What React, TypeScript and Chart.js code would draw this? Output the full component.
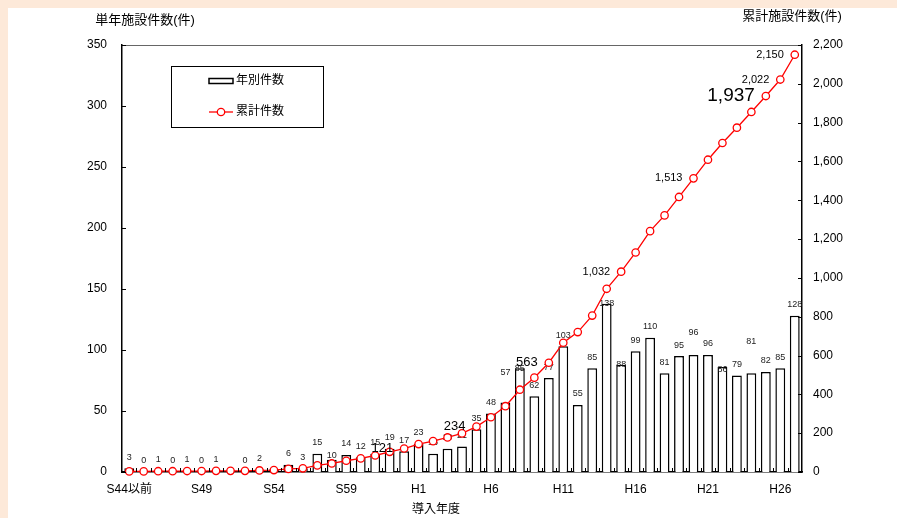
import { useEffect, useRef } from "react";
import { Chart, registerables } from "chart.js";

Chart.register(...registerables);

const categories = [
  "S44以前", "S45", "S46", "S47", "S48", "S49", "S50", "S51", "S52", "S53",
  "S54", "S55", "S56", "S57", "S58", "S59", "S60", "S61", "S62", "S63",
  "H1", "H2", "H3", "H4", "H5", "H6", "H7", "H8", "H9", "H10",
  "H11", "H12", "H13", "H14", "H15", "H16", "H17", "H18", "H19", "H20",
  "H21", "H22", "H23", "H24", "H25", "H26", "H27",
];

const annualCounts = [
  3, 0, 1, 0, 1, 0, 1, 0, 0, 2,
  2, 6, 3, 15, 10, 14, 12, 15, 19, 17,
  23, 15, 19, 21, 35, 48, 57, 85, 62, 77,
  103, 55, 85, 138, 88, 99, 110, 81, 95, 96,
  96, 86, 79, 81, 82, 85, 128,
];

const cumulativeCounts = [
  3, 3, 4, 4, 5, 5, 6, 6, 6, 8,
  10, 16, 19, 34, 44, 58, 70, 85, 104, 121,
  144, 159, 178, 199, 234, 282, 339, 424, 486, 563,
  666, 721, 806, 944, 1032, 1131, 1241, 1322, 1417, 1513,
  1609, 1695, 1774, 1855, 1937, 2022, 2150,
];

const xTickLabels = ["S44以前", "S49", "S54", "S59", "H1", "H6", "H11", "H16", "H21", "H26"];
const leftTicks = { min: 0, max: 350, step: 50 };
const rightTicks = { min: 0, max: 2200, step: 200 };

const seriesNames = ["年別件数", "累計件数"];
const leftTitle = "単年施設件数(件)";
const rightTitle = "累計施設件数(件)";
const xTitle = "導入年度";

// cumulative labels shown (category index -> font size)
const cumLabelStyle: Record<number, number> = { 19: 13, 24: 13, 29: 13, 34: 11, 39: 11, 44: 19, 45: 11, 46: 11 };
// vertical nudges for some bar value labels (px)
const barLabelNudge: Record<number, number> = { 7: 11, 10: 11, 14: 7, 26: -19, 27: 11, 33: 11, 34: 11, 39: -11, 41: 13, 43: -21 };

const FONT = '"Liberation Sans", "Noto Sans CJK JP", sans-serif';
const W = 889;
const H = 510;

const customPlugin = {
  id: "customDecor",
  afterDatasetDraw(chart: any, args: any) {
    if (args.index !== 0) return;
    const ctx = chart.ctx as CanvasRenderingContext2D;
    const meta = chart.getDatasetMeta(0);
    ctx.save();
    ctx.font = `9px ${FONT}`;
    ctx.fillStyle = "#222";
    ctx.textAlign = "center";
    ctx.textBaseline = "middle";
    meta.data.forEach((el: any, i: number) => {
      const y = el.y - 11 + (barLabelNudge[i] || 0);
      ctx.fillText(String(annualCounts[i]), el.x, y);
    });
    ctx.restore();
  },
  afterDatasetsDraw(chart: any) {
    const ctx = chart.ctx as CanvasRenderingContext2D;
    const { left, right, top, bottom } = chart.chartArea;
    const xs = chart.scales.x;
    const yl = chart.scales.y;
    const yr = chart.scales.y1;
    ctx.save();
    // top border
    ctx.strokeStyle = "#666";
    ctx.lineWidth = 1;
    ctx.beginPath();
    ctx.moveTo(left, top + 0.5);
    ctx.lineTo(right, top + 0.5);
    ctx.stroke();
    // inward ticks
    ctx.strokeStyle = "#000";
    ctx.lineWidth = 1;
    ctx.beginPath();
    yl.ticks.forEach((t: any) => {
      const y = Math.round(yl.getPixelForValue(t.value)) + 0.5;
      ctx.moveTo(left, y);
      ctx.lineTo(left + 4, y);
    });
    yr.ticks.forEach((t: any) => {
      const y = Math.round(yr.getPixelForValue(t.value)) + 0.5;
      ctx.moveTo(right - 4, y);
      ctx.lineTo(right, y);
    });
    for (let i = 1; i < categories.length; i++) {
      const x = Math.round((xs.getPixelForValue(i - 1) + xs.getPixelForValue(i)) / 2) + 0.5;
      ctx.moveTo(x, bottom);
      ctx.lineTo(x, bottom - 4);
    }
    ctx.stroke();
    // cumulative labels
    const meta = chart.getDatasetMeta(1);
    ctx.fillStyle = "#000";
    ctx.textAlign = "right";
    ctx.textBaseline = "middle";
    Object.keys(cumLabelStyle).forEach((k) => {
      const i = Number(k);
      const el = meta.data[i];
      ctx.font = `${cumLabelStyle[i]}px ${FONT}`;
      ctx.fillText(cumulativeCounts[i].toLocaleString("en-US"), el.x - 11, el.y);
    });
    ctx.restore();
  },
  afterDraw(chart: any) {
    const ctx = chart.ctx as CanvasRenderingContext2D;
    ctx.save();
    ctx.fillStyle = "#000";
    ctx.textBaseline = "middle";
    ctx.textAlign = "center";
    ctx.font = `13px ${FONT}`;
    ctx.fillText(leftTitle, 137, 12);
    ctx.fillText(rightTitle, 784, 8);
    ctx.font = `12px ${FONT}`;
    ctx.fillText(xTitle, 428, 502);
    // legend
    const bx = 163, by = 58, bw = 152, bh = 61;
    ctx.fillStyle = "#fff";
    ctx.fillRect(bx, by, bw, bh);
    ctx.strokeStyle = "#000";
    ctx.lineWidth = 1;
    ctx.strokeRect(bx + 0.5, by + 0.5, bw, bh);
    // bar item
    ctx.lineWidth = 1.5;
    ctx.strokeRect(201, 70.5, 24, 5);
    // line item
    ctx.strokeStyle = "#ff0000";
    ctx.lineWidth = 1.3;
    ctx.beginPath();
    ctx.moveTo(201, 104);
    ctx.lineTo(225, 104);
    ctx.stroke();
    ctx.fillStyle = "#fff";
    ctx.beginPath();
    ctx.arc(213, 104, 3.7, 0, Math.PI * 2);
    ctx.fill();
    ctx.stroke();
    ctx.fillStyle = "#000";
    ctx.textAlign = "left";
    ctx.font = `12px ${FONT}`;
    ctx.fillText(seriesNames[0], 228, 73);
    ctx.fillText(seriesNames[1], 228, 104);
    ctx.restore();
  },
};

export default function App() {
  const ref = useRef<HTMLCanvasElement | null>(null);

  useEffect(() => {
    if (!ref.current) return;
    const chart = new Chart(ref.current, {
      type: "bar",
      data: {
        labels: categories,
        datasets: [
          {
            type: "bar",
            label: seriesNames[0],
            data: annualCounts,
            backgroundColor: "#ffffff",
            borderColor: "#000000",
            borderWidth: 1.5,
            barPercentage: 0.68,
            categoryPercentage: 1,
            yAxisID: "y",
            order: 2,
          } as any,
          {
            type: "line",
            label: seriesNames[1],
            data: cumulativeCounts,
            borderColor: "#ff0000",
            borderWidth: 1.3,
            pointRadius: 3.7,
            pointBackgroundColor: "#ffffff",
            pointBorderColor: "#ff0000",
            pointBorderWidth: 1.3,
            tension: 0,
            yAxisID: "y1",
            order: 1,
            clip: false,
          } as any,
        ],
      },
      options: {
        responsive: false,
        animation: false,
        events: [],
        layout: { padding: { top: 37, left: 0, right: 0, bottom: 0 } },
        plugins: { legend: { display: false }, tooltip: { enabled: false } },
        scales: {
          x: {
            type: "category",
            offset: true,
            grid: { display: false, drawTicks: false },
            border: { display: true, color: "#000", width: 1.5 },
            ticks: {
              autoSkip: false,
              maxRotation: 0,
              padding: 10,
              color: "#000",
              font: { size: 12, family: FONT },
              callback: (_v: any, i: number) => (xTickLabels.includes(categories[i]) ? categories[i] : ""),
            },
            afterFit: (s: any) => {
              s.height = 46;
            },
          },
          y: {
            position: "left",
            min: leftTicks.min,
            max: leftTicks.max,
            grid: { display: false, drawTicks: false },
            border: { display: true, color: "#000", width: 1.5 },
            ticks: { stepSize: leftTicks.step, padding: 15, color: "#000", font: { size: 12, family: FONT } },
            afterFit: (s: any) => {
              s.width = 114;
            },
          },
          y1: {
            position: "right",
            min: rightTicks.min,
            max: rightTicks.max,
            grid: { display: false, drawTicks: false },
            border: { display: true, color: "#000", width: 1.5 },
            ticks: {
              stepSize: rightTicks.step,
              padding: 11,
              color: "#000",
              font: { size: 12, family: FONT },
              callback: (v: any) => Number(v).toLocaleString("en-US"),
            },
            afterFit: (s: any) => {
              s.width = 95;
            },
          },
        },
      } as any,
      plugins: [customPlugin as any],
    });
    return () => chart.destroy();
  }, []);

  return (
    <div style={{ position: "fixed", inset: 0, background: "#fde9d9", overflow: "hidden" }}>
      <canvas
        ref={ref}
        width={W}
        height={H}
        style={{ position: "absolute", left: 8, top: 8, width: W, height: H, background: "#ffffff" }}
      />
    </div>
  );
}
